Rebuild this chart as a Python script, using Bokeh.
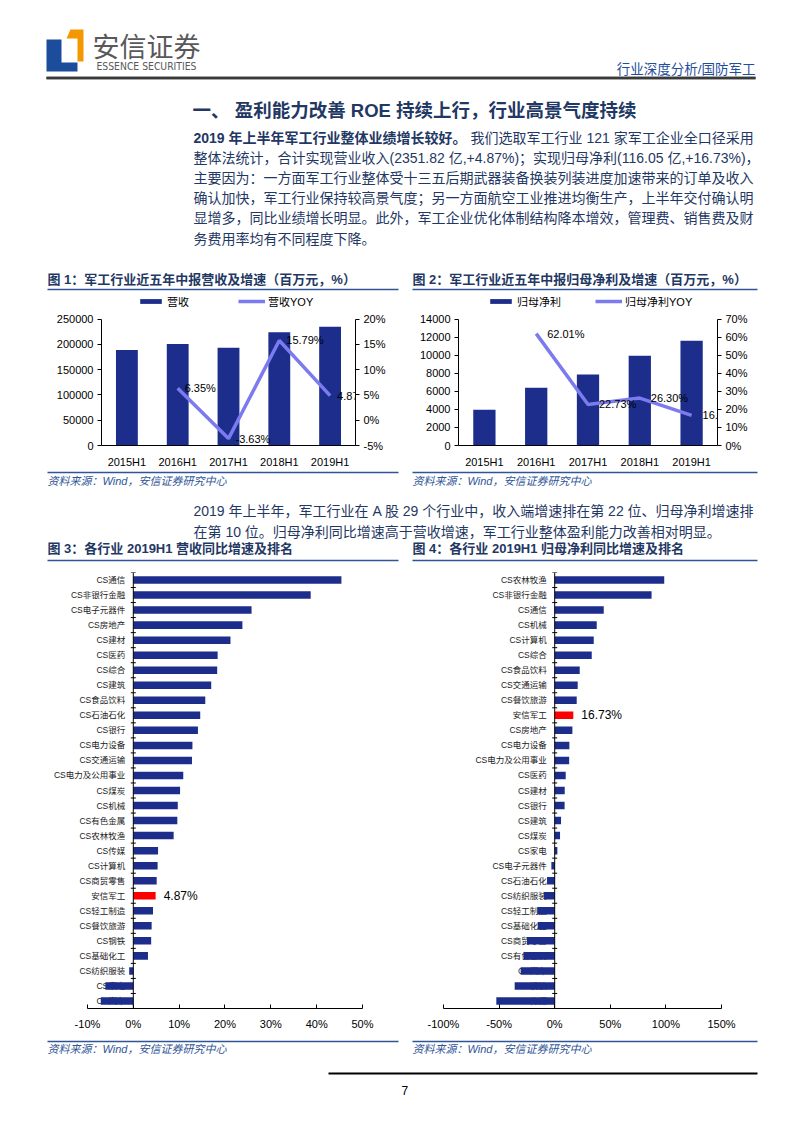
from bokeh.plotting import figure
from bokeh.models import (ColumnDataSource, Range1d, FactorRange, LinearAxis, Legend, LegendItem,
                          LabelSet, Span, FixedTicker, PrintfTickFormatter, NumeralTickFormatter,
                          BoxAnnotation)
from bokeh.layouts import column, row
from bokeh.transform import dodge
from bokeh.core.properties import value
from bokeh.embed import file_html
from bokeh.resources import INLINE

# ---------------- data ----------------
years = ["2015H1", "2016H1", "2017H1", "2018H1", "2019H1"]
revenue = [188980, 200970, 193680, 224260, 235182]
yoy_years = ["2016H1", "2017H1", "2018H1", "2019H1"]
revenue_yoy = [6.35, -3.63, 15.79, 4.87]
profit = [3960, 6414, 7872, 9942, 11605]
profit_yoy = [62.01, 22.73, 26.30, 16.73]

rev_names = ["CS通信", "CS非银行金融", "CS电子元器件", "CS房地产", "CS建材", "CS医药", "CS综合",
             "CS建筑", "CS食品饮料", "CS石油石化", "CS银行", "CS电力设备", "CS交通运输",
             "CS电力及公用事业", "CS煤炭", "CS机械", "CS有色金属", "CS农林牧渔", "CS传媒",
             "CS计算机", "CS商贸零售", "安信军工", "CS轻工制造", "CS餐饮旅游", "CS钢铁",
             "CS基础化工", "CS纺织服装", "CS家电", "CS汽车"]
rev_vals = [45.4, 38.7, 25.8, 23.8, 21.2, 18.4, 18.3, 17.0, 15.7, 14.6, 14.1, 12.9, 12.8,
            10.9, 10.2, 9.7, 9.6, 8.8, 5.4, 5.3, 5.1, 4.87, 4.3, 4.0, 3.9, 3.2, -0.9, -6.1, -7.1]

np_names = ["CS农林牧渔", "CS非银行金融", "CS通信", "CS机械", "CS计算机", "CS综合", "CS食品饮料",
            "CS交通运输", "CS餐饮旅游", "安信军工", "CS房地产", "CS电力设备", "CS电力及公用事业",
            "CS医药", "CS建材", "CS银行", "CS建筑", "CS煤炭", "CS家电", "CS电子元器件",
            "CS石油石化", "CS纺织服装", "CS轻工制造", "CS基础化工", "CS商贸零售", "CS有色金属",
            "CS汽车", "CS钢铁", "CS传媒"]
np_vals = [98.5, 87.1, 44.1, 37.8, 35.1, 33.3, 22.5, 20.7, 19.8, 16.73, 15.9, 13.2, 13.0,
           9.9, 9.0, 8.9, 5.7, 4.8, 2.4, -3.0, -6.9, -9.6, -15.6, -15.3, -24.9, -27.9,
           -30.6, -36.0, -52.5]

# ---------------- styles ----------------
NAVY = "#1C2D8C"
LAV = "#7B7BEF"
RED = "#FF0000"
TXT = "#1F3864"
LINEBLUE = "#2F5597"
MIX = "Liberation Sans, Noto Sans CJK SC"
LAT = "Liberation Sans"
W = 794


def text_fig(y0, y1):
    p = figure(width=W, height=y1 - y0, x_range=Range1d(0, W), y_range=Range1d(y1, y0),
               output_backend="svg", toolbar_location=None,
               min_border_left=0, min_border_right=0, min_border_top=0, min_border_bottom=0)
    p.axis.visible = False
    p.grid.visible = False
    p.outline_line_color = None
    return p


def txt(p, x, y, s, size, color=TXT, style="normal", align="left", font=MIX):
    p.text(x=[x], y=[y], text=[s], text_font=value(font), text_font_size=size,
           text_color=color, text_font_style=style, text_align=align, text_baseline="middle")


def hline(p, x0, x1, y, color=LINEBLUE, w=1.5):
    p.quad(left=[x0], right=[x1], top=[y - w / 2], bottom=[y + w / 2],
           fill_color=color, line_color=None)


def style_axis(ax, size="11px"):
    ax.axis_line_color = "black"
    ax.axis_line_width = 1
    ax.major_tick_line_color = "black"
    ax.major_tick_in = 0
    ax.major_tick_out = 4
    ax.minor_tick_line_color = None
    ax.major_label_text_font = LAT
    ax.major_label_text_font_size = size
    ax.major_label_text_color = "black"


# ---------------- top text block ----------------
top = text_fig(0, 295)
hline(top, 46, 755, 77.5, color="#3A3A3A", w=2.5)
top.add_layout(BoxAnnotation(left=46, right=755, top=76.3, bottom=78.7, fill_color="#3A3A3A",
                             fill_alpha=1, line_color=None, level="overlay"))
top.patch(x=[46, 61, 61, 77, 77, 46], y=[39, 39, 62, 62, 71, 71], fill_color="#1C4C9C", line_color=None)
top.patch(x=[70, 83, 83, 77, 77, 66], y=[29, 29, 61, 61, 38, 38], fill_color="#F39800", line_color=None)
txt(top, 92, 45, "安信证券", "27px", color="#595959", font="Noto Sans CJK SC")
txt(top, 96, 65.5, "ESSENCE SECURITIES", "10.3px", color="#595959",
    font="Liberation Sans Narrow, DejaVu Sans Condensed, Liberation Sans")
txt(top, 755, 69, "行业深度分析/国防军工", "13.5px", color="#1F4E9C", align="right")

txt(top, 192, 110, "一、 盈利能力改善 ROE 持续上行，行业高景气度持续", "18.5px", style="bold")
txt(top, 193, 137, "2019 年上半年军工行业整体业绩增长较好。", "14px", style="bold")
txt(top, 470, 137, "我们选取军工行业 121 家军工企业全口径采用", "14px")
para = ["整体法统计，合计实现营业收入(2351.82 亿,+4.87%)；实现归母净利(116.05 亿,+16.73%)，",
        "主要因为：一方面军工行业整体受十三五后期武器装备换装列装进度加速带来的订单及收入",
        "确认加快，军工行业保持较高景气度；另一方面航空工业推进均衡生产，上半年交付确认明",
        "显增多，同比业绩增长明显。此外，军工企业优化体制结构降本增效，管理费、销售费及财",
        "务费用率均有不同程度下降。"]
for i, s in enumerate(para):
    txt(top, 193, 157.2 + i * 20.2, s, "14px")

txt(top, 47, 279, "图 1：军工行业近五年中报营收及增速（百万元，%）", "13px", style="bold")
txt(top, 412, 279, "图 2：军工行业近五年中报归母净利及增速（百万元，%）", "13px", style="bold")
hline(top, 47, 398, 289)
hline(top, 412, 757, 289)


# ---------------- combo charts ----------------
# plot frame is 150px tall; the scales occupy its lower 128px, the legend sits in the top strip
FRAME_H, SCALE_H = 150, 128


def combo(bars, yoy, bar_label, line_label, left_max, left_step, r0, r1, r_step,
          fig_w, bl, br, leg_x, leg_sp, dx):
    grow = FRAME_H / SCALE_H
    p = figure(x_range=FactorRange(factors=years, range_padding=0),
               y_range=Range1d(0, left_max * grow),
               width=fig_w, height=175, output_backend="svg", toolbar_location=None,
               min_border_left=bl, min_border_right=br, min_border_top=2, min_border_bottom=23)
    p.grid.visible = False
    p.outline_line_color = None
    bsrc = ColumnDataSource(dict(x=years, v=bars))
    vb = p.vbar(x="x", top="v", width=0.43, source=bsrc, fill_color=NAVY, line_color=None)
    p.extra_y_ranges = {"yoy": Range1d(r0, r0 + (r1 - r0) * grow)}
    lsrc = ColumnDataSource(dict(x=yoy_years, v=yoy, t=[f"{v:.2f}%" for v in yoy]))
    ln = p.line(x="x", y="v", source=lsrc, y_range_name="yoy", line_color=LAV, line_width=3.5)
    p.add_layout(LabelSet(x="x", y="v", text="t", source=lsrc, y_range_name="yoy", x_offset=dx,
                          text_baseline="middle", text_align="left", text_font=value(LAT),
                          text_font_size="11px", text_color="black"))
    p.yaxis.ticker = FixedTicker(ticks=list(range(0, left_max + 1, left_step)))
    p.yaxis.formatter = NumeralTickFormatter(format="0")
    p.yaxis.bounds = (0, left_max)
    style_axis(p.yaxis[0])
    p.yaxis.major_label_standoff = 4
    ra = LinearAxis(y_range_name="yoy", ticker=FixedTicker(ticks=list(range(r0, r1 + 1, r_step))),
                    formatter=PrintfTickFormatter(format="%d%%"), bounds=(r0, r1))
    style_axis(ra)
    ra.major_label_standoff = 4
    p.add_layout(ra, "right")
    style_axis(p.xaxis[0])
    p.xaxis.major_tick_line_color = None
    p.xaxis.major_label_standoff = 6
    # legend location is its bottom-left corner, measured up from the frame bottom
    leg = Legend(items=[LegendItem(label=bar_label, renderers=[vb]),
                        LegendItem(label=line_label, renderers=[ln])],
                 orientation="horizontal", location=(leg_x, 136), glyph_width=27, glyph_height=6,
                 label_height=12, label_standoff=3, spacing=leg_sp, padding=0, margin=0,
                 border_line_color=None, background_fill_alpha=0,
                 label_text_font=MIX, label_text_font_size="11px", label_text_color="black")
    p.add_layout(leg)
    return p


c1 = combo(revenue, revenue_yoy, "营收", "营收YOY", 250000, 50000, -5, 20, 5,
           400, 101, 45, 36, 49, 7)
c2 = combo(profit, profit_yoy, "归母净利", "归母净利YOY", 14000, 2000, 0, 70, 10,
           394, 58, 77, 29, 34, 11)

# ---------------- middle text block ----------------
mid = text_fig(470, 565)
hline(mid, 47, 398, 472)
hline(mid, 412, 757, 472)
txt(mid, 47, 480, "资料来源：Wind，安信证券研究中心", "11px", color=LINEBLUE, style="italic")
txt(mid, 412, 480, "资料来源：Wind，安信证券研究中心", "11px", color=LINEBLUE, style="italic")
txt(mid, 193, 510, "2019 年上半年，军工行业在 A 股 29 个行业中，收入端增速排在第 22 位、归母净利增速排", "14px")
txt(mid, 193, 531, "在第 10 位。归母净利同比增速高于营收增速，军工行业整体盈利能力改善相对明显。", "14px")
txt(mid, 47, 548, "图 3：各行业 2019H1 营收同比增速及排名", "13px", style="bold")
txt(mid, 412, 548, "图 4：各行业 2019H1 归母净利同比增速及排名", "13px", style="bold")
hline(mid, 47, 398, 560)
hline(mid, 412, 757, 560)


# ---------------- ranking charts ----------------
def rank(names, vals, x0, x1, ticks, fig_w, bl, br, bt, bb, lab_dx):
    p = figure(y_range=FactorRange(factors=list(reversed(names)), range_padding=0),
               x_range=Range1d(x0, x1), width=fig_w, height=470, output_backend="svg",
               toolbar_location=None, min_border_left=bl, min_border_right=br,
               min_border_top=bt, min_border_bottom=bb)
    p.grid.visible = False
    p.outline_line_color = None
    p.yaxis.visible = False
    colors = [RED if n == "安信军工" else NAVY for n in names]
    src = ColumnDataSource(dict(cat=names, v=vals, c=colors))
    p.add_layout(LabelSet(x=0, y="cat", text="cat", source=src, x_offset=lab_dx, level="underlay",
                          text_align="right", text_baseline="middle", text_font=value(MIX),
                          text_font_size="8.5px", text_color="#222222"))
    p.hbar(y="cat", left=0, right="v", height=0.5, source=src, fill_color="c", line_color=None)
    p.add_layout(Span(location=0, dimension="height", line_color="black", line_width=1))
    p.scatter(x=0, y=dodge("cat", 0.5, range=p.y_range), source=src, marker="dash", size=5,
              line_color="black")
    hi = [i for i, n in enumerate(names) if n == "安信军工"]
    hsrc = ColumnDataSource(dict(cat=[names[i] for i in hi], v=[vals[i] for i in hi],
                                 t=[f"{vals[i]:.2f}%" for i in hi]))
    p.add_layout(LabelSet(x="v", y="cat", text="t", source=hsrc, x_offset=8, text_align="left",
                          text_baseline="middle", text_font=value(LAT), text_font_size="12px",
                          text_color="black"))
    p.xaxis.ticker = FixedTicker(ticks=ticks)
    p.xaxis.formatter = PrintfTickFormatter(format="%d%%")
    p.xaxis.bounds = (ticks[0], ticks[-1])
    style_axis(p.xaxis[0], "11px")
    p.xaxis.major_tick_in = 4
    p.xaxis.major_tick_out = 0
    p.xaxis.major_label_standoff = 9
    return p


c3 = rank(rev_names, rev_vals, -18.5, 50, [-10, 0, 10, 20, 30, 40, 50], 400, 48, 38, 7, 25, -8)
c4 = rank(np_names, np_vals, -100, 150, [-100, -50, 0, 50, 100, 150], 394, 43, 73, 4, 27, -8)

# ---------------- bottom text block ----------------
bot = text_fig(1035, 1125)
hline(bot, 47, 398, 1041)
hline(bot, 412, 757, 1041)
txt(bot, 47, 1048, "资料来源：Wind，安信证券研究中心", "11px", color=LINEBLUE, style="italic")
txt(bot, 412, 1048, "资料来源：Wind，安信证券研究中心", "11px", color=LINEBLUE, style="italic")
hline(bot, 328, 757, 1073, color="black", w=2)
txt(bot, 401, 1090, "7", "12px", color="black", font=LAT)

page = column(top, row(c1, c2, spacing=0), mid, row(c3, c4, spacing=0), bot, spacing=0)
open("out.html", "w").write(file_html(page, INLINE))
